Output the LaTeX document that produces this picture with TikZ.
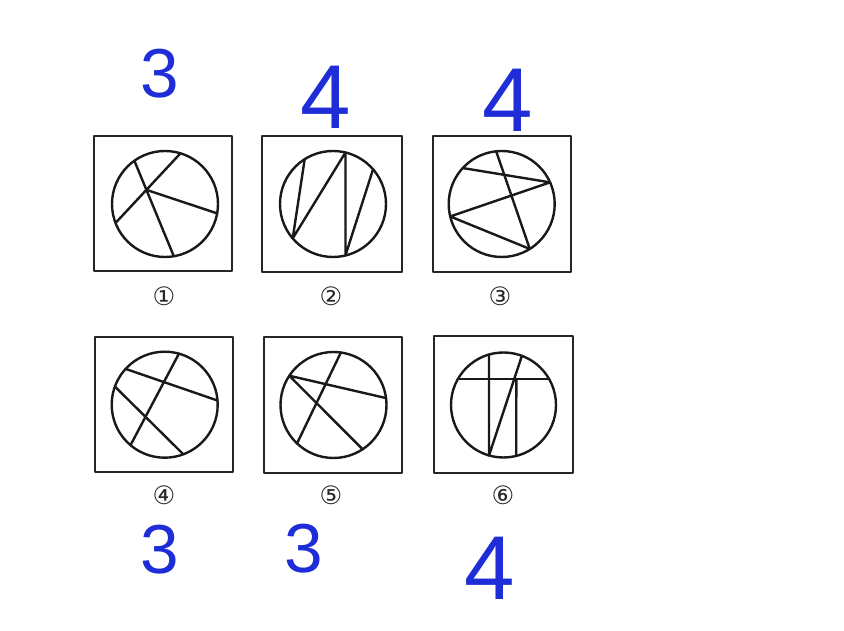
\documentclass[tikz,border=0pt]{standalone}
\usepackage{fontspec}
\setmainfont{Liberation Sans}
\newfontfamily\dejavu{DejaVu Sans}
\definecolor{ink}{RGB}{30,45,215}
\definecolor{lab}{RGB}{40,40,40}
\begin{document}
\begin{tikzpicture}[x=0.75pt,y=0.75pt,line join=round,line cap=round]
\tikzset{
  frame/.style={draw=black!85,line width=1.9pt},
  fig/.style={draw=black!90,line width=1.8pt},
  numlab/.style={font=\dejavu\fontsize{19}{19}\selectfont,text=lab,inner sep=0pt},
  hand/.style={font=\fontsize{52}{52}\selectfont,text=ink,inner sep=0pt},
  handbig/.style={font=\fontsize{68}{68}\selectfont,text=ink,inner sep=0pt}
}
\useasboundingbox[fill=white] (0,0) rectangle (844,631);
% frames
\draw[frame] (94,495) rectangle (232,360);
\draw[frame] (262,495) rectangle (402,359);
\draw[frame] (433,495) rectangle (571,359);
\draw[frame] (95,294) rectangle (233,159);
\draw[frame] (264,294) rectangle (402,158);
\draw[frame] (434,295) rectangle (573,158);
% panel 1
\begin{scope}[shift={(165,427)}]
  \draw[fig] (0,0) circle (53);
  \coordinate (pa1) at (125.3:53); \coordinate (pb1) at (-80.4:53);
  \coordinate (pc1) at (73:53); \coordinate (pd1) at (201:53);
  \draw[fig] (pa1)--(pb1);
  \draw[fig] (pc1)--(pd1);
  \draw[fig] (intersection of pa1--pb1 and pc1--pd1) -- (-10.2:53);
\end{scope}
% panel 2
\begin{scope}[shift={(333,427)}]
  \draw[fig] (0,0) circle (53);
  \draw[fig] (122.3:53) -- (220.5:53) -- (76.4:53) -- (-76.4:53) -- (40.9:53);
\end{scope}
% panel 3
\begin{scope}[shift={(501.7,427)}]
  \draw[fig] (0,0) circle (53);
  \draw[fig] (96:53) -- (-58:53);
  \draw[fig] (137.3:53) -- (24.1:53) -- (193.6:53) -- (-58:53);
\end{scope}
% panel 4
\begin{scope}[shift={(164.7,226.3)}]
  \draw[fig] (0,0) circle (53);
  \draw[fig] (137.5:53) -- (4.5:53);
  \draw[fig] (74.4:53) -- (229.8:53);
  \draw[fig] (160:53) -- (-69.4:53);
\end{scope}
% panel 5
\begin{scope}[shift={(333.5,226)}]
  \draw[fig] (0,0) circle (53);
  \draw[fig] (7.5:53) -- (146.5:53) -- (-56.7:53);
  \draw[fig] (82:53) -- (226.5:53);
\end{scope}
% panel 6
\begin{scope}[shift={(503.5,226)}]
  \draw[fig] (0,0) circle (52.5);
  \draw[fig] (150.7:52.5) -- (29.3:52.5);
  \draw[fig] (106:52.5) -- (-106:52.5) -- (69.5:52.5);
  \draw[fig] (12.8,25.7) -- (-75.9:52.5);
\end{scope}
% labels
\node[numlab] (n1) at (164,335) {①};
\node[numlab] (n2) at (331,335) {②};
\node[numlab] (n3) at (500,335) {③};
\node[numlab] (n4) at (164,136) {④};
\node[numlab] (n5) at (331,136) {⑤};
\node[numlab] (n6) at (503,136) {⑥};
% handwritten counts
\node[hand] (h1) at (160,557) {3};
\node[handbig] (h2) at (326,534) {4};
\node[handbig] (h3) at (508,531) {4};
\node[hand] (h4) at (160,81) {3};
\node[hand] (h5) at (304,82) {3};
\node[handbig] (h6) at (490,63) {4};
\end{tikzpicture}
\end{document}
